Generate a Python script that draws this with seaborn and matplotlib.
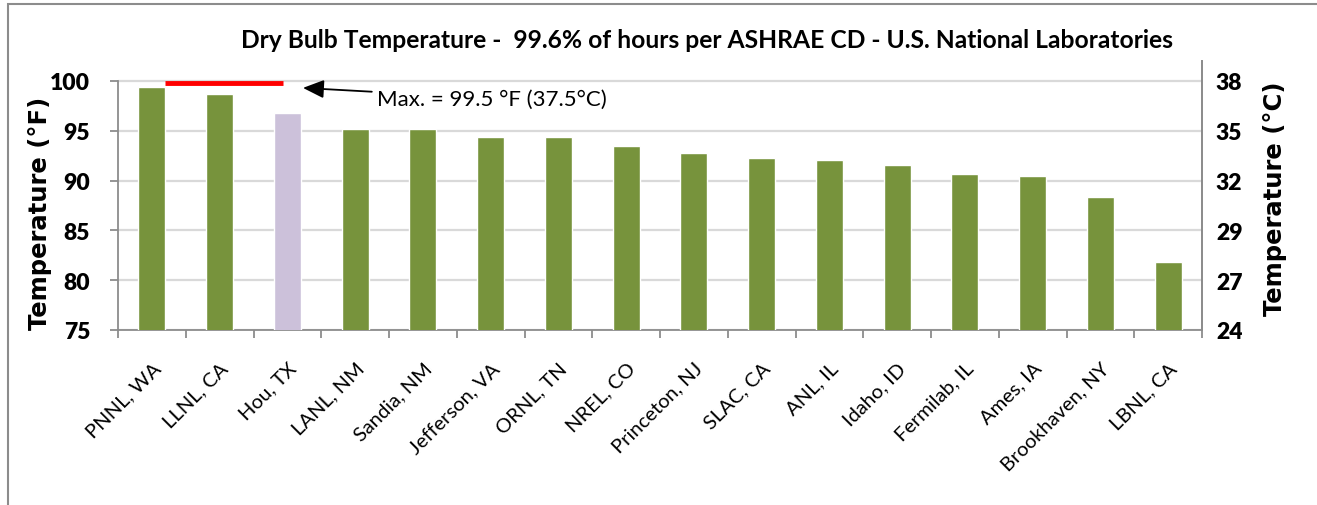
import numpy as np
import pandas as pd
import seaborn as sns
import matplotlib.pyplot as plt
from matplotlib.patches import Rectangle

# ---------------- data ----------------
sites = ["PNNL, WA", "LLNL, CA", "Hou, TX", "LANL, NM", "Sandia, NM", "Jefferson, VA",
         "ORNL, TN", "NREL, CO", "Princeton, NJ", "SLAC, CA", "ANL, IL", "Idaho, ID",
         "Fermilab, IL", "Ames, IA", "Brookhaven, NY", "LBNL, CA"]
temps_f = [99.35, 98.65, 96.75, 95.15, 95.15, 94.4, 94.4, 93.5,
           92.8, 92.25, 92.1, 91.55, 90.7, 90.5, 88.35, 81.8]
highlight_site = "Hou, TX"
f_ticks = [75, 80, 85, 90, 95, 100]
c_tick_labels = ["24", "27", "29", "32", "35", "38"]
max_line_value = 99.75
max_label = "Max. = 99.5 \u00b0F (37.5\u00b0C)"
title = "Dry Bulb Temperature -  99.6% of hours per ASHRAE CD - U.S. National Laboratories"

GREEN = "#77933C"
LAVENDER = "#CCC1DA"
GRID = "#D9D9D9"
AXIS = "#8C8C8C"

sns.set_theme(style="white")
plt.rcParams["font.family"] = ["Lato", "DejaVu Sans"]
plt.rcParams["text.color"] = "black"
plt.rcParams["xtick.color"] = "black"
plt.rcParams["ytick.color"] = "black"

W, H = 1317, 506
fig = plt.figure(figsize=(W / 100, H / 100), dpi=100)
ax = fig.add_axes([118 / W, 175 / H, (1202 - 118) / W, (444 - 175) / H])

df = pd.DataFrame({"site": sites, "temp": temps_f})
df["grp"] = np.where(df["site"] == highlight_site, "hi", "base")
bar_w = 0.4
sns.barplot(data=df, x="site", y="temp", hue="grp", order=sites,
            palette={"base": GREEN, "hi": LAVENDER}, width=bar_w, dodge=False,
            legend=False, ax=ax, zorder=3, saturation=1)

ax.set_xlim(-0.5, len(sites) - 0.5)
ax.set_ylim(75, 102)
ax.set_yticks(f_ticks)
ax.set_yticklabels([str(v) for v in f_ticks], fontsize=16.5, fontweight="heavy")
ax.yaxis.grid(True, color=GRID, lw=1.6, zorder=0)
ax.set_axisbelow(True)

ax.spines["top"].set_visible(False)
ax.spines["left"].set_bounds(75, 100)
for s in ["left", "bottom", "right"]:
    ax.spines[s].set_color(AXIS)
    ax.spines[s].set_linewidth(1.3)
ax.tick_params(axis="y", which="major", length=6, width=1.3, color=AXIS, pad=14, left=True)

ax.set_xticks(np.arange(len(sites)))
ax.set_xticklabels(sites, rotation=45, ha="right", rotation_mode="anchor", fontsize=14.5)
ax.set_xticks(np.arange(-0.5, len(sites), 1), minor=True)
ax.tick_params(axis="x", which="major", length=0, pad=21)
ax.tick_params(axis="x", which="minor", length=6, width=1.3, color=AXIS, bottom=True)
ax.set_xlabel("")
ax.set_ylabel("")

# red max line
ax.hlines(max_line_value, 0 + bar_w / 2, 2 - 0.07, color="#FF0000", lw=3.5, zorder=4)
ax.annotate(max_label, xy=(2.23, 99.3), xytext=(3.32, 98.25),
            fontsize=16, ha="left", va="center", zorder=5,
            bbox=dict(boxstyle="square,pad=0.1", fc="white", ec="none"),
            arrowprops=dict(arrowstyle="-|>,head_length=0.8,head_width=0.35", color="black",
                            lw=1.3, shrinkA=2, shrinkB=0))

# right axis in Celsius
ax2 = ax.twinx()
ax2.set_ylim(ax.get_ylim())
ax2.set_yticks(f_ticks)
ax2.set_yticklabels(c_tick_labels, fontsize=16.5, fontweight="heavy")
ax2.tick_params(axis="y", length=0, pad=10)
for s in ["top", "left", "bottom"]:
    ax2.spines[s].set_visible(False)
ax2.spines["right"].set_color(AXIS)
ax2.spines["right"].set_linewidth(1.3)

fig.text(40 / W, 1 - 213 / H, "Temperature (\u00b0F)", rotation=90, ha="center", va="center",
         fontsize=17.5, fontweight="bold", family="DejaVu Sans")
fig.text(1275 / W, 1 - 199 / H, "Temperature (\u00b0C)", rotation=90, ha="center", va="center",
         fontsize=17.5, fontweight="bold", family="DejaVu Sans")
fig.text(707 / W, 1 - 40 / H, title, ha="center", va="center", fontsize=17.7, fontweight="bold")

fig.patches.append(Rectangle((8 / W, -0.05), 1.2, 1.05 - 5 / H, transform=fig.transFigure,
                             fill=False, ec="#8C8C8C", lw=1.5))

fig.savefig("out.png", dpi=100)
